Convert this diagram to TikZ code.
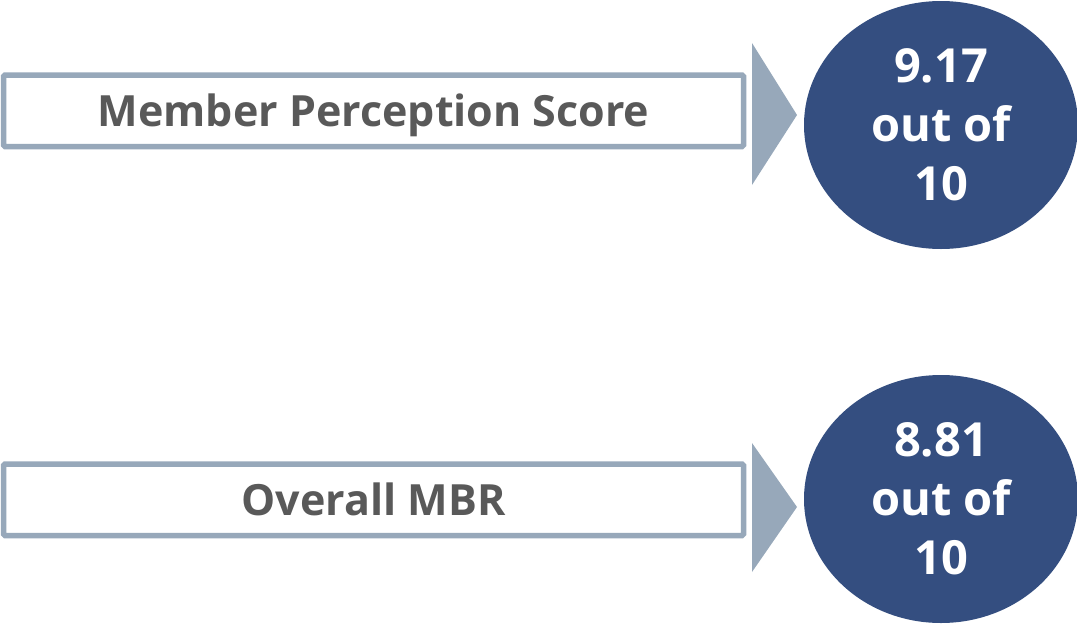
\documentclass[tikz,border=0pt]{standalone}
\usepackage{fontspec}
\setmainfont{Open Sans}
\usetikzlibrary{shapes.geometric}
\definecolor{framegray}{HTML}{97A8BA}
\definecolor{ovalblue}{HTML}{344E80}
\definecolor{labelgray}{HTML}{595959}
\tikzset{
  labelbox/.style={draw=framegray, line width=5.5pt, rounded corners=1.5pt,
    fill=white, minimum width=740pt, minimum height=71.5pt, inner sep=0pt,
    text height=31pt, text depth=0pt,
    text=labelgray, font=\fontsize{43}{50}\selectfont\bfseries},
  scoreoval/.style={ellipse, fill=ovalblue, minimum width=274pt,
    minimum height=248pt, inner sep=0pt, text=white, align=center,
    font=\fontsize{47}{59}\selectfont\bfseries},
  pointer/.style={fill=framegray}
}
\begin{document}
\begin{tikzpicture}[x=1pt,y=-1pt]
\useasboundingbox (0,0) rectangle (1077,627);

% first row
\node[labelbox] (mps) at (373.5,110.75) {Member Perception Score};
\coordinate (mpsTop) at (752,43);
\coordinate (mpsBot) at (752,185);
\coordinate (mpsTip) at (797,115);
\fill[pointer] (mpsTop) -- (mpsTip) -- (mpsBot) -- cycle;
\node[scoreoval] (mpsScore) at (941,125) {9.17\\out of\\10};

% second row
\node[labelbox] (mbr) at (373.5,499.75) {Overall MBR};
\coordinate (mbrTop) at (752,443);
\coordinate (mbrBot) at (752,572);
\coordinate (mbrTip) at (797,507);
\fill[pointer] (mbrTop) -- (mbrTip) -- (mbrBot) -- cycle;
\node[scoreoval] (mbrScore) at (941,499) {8.81\\out of\\10};
\end{tikzpicture}
\end{document}
